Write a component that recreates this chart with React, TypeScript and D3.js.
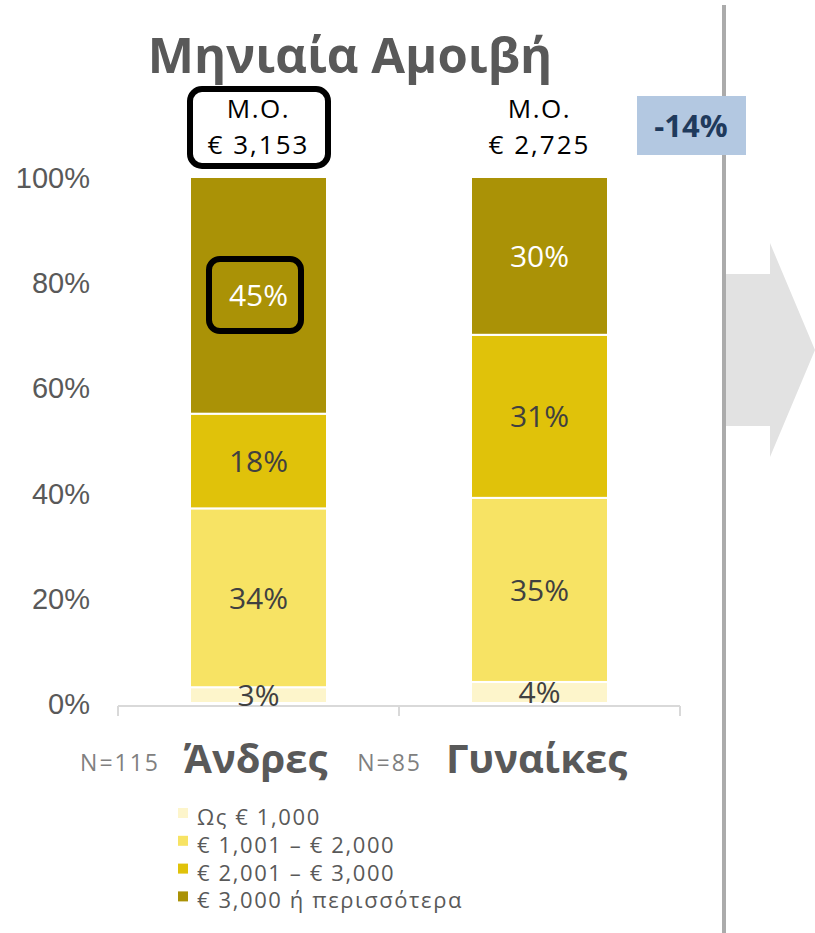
import React from "react";
import * as d3 from "d3";

const categories = ["Άνδρες", "Γυναίκες"];
const sampleSizes = ["N=115", "N=85"];
const averages = ["€ 3,153", "€ 2,725"];
const bands = ["Ως € 1,000", "€ 1,001 – € 2,000", "€ 2,001 – € 3,000", "€ 3,000 ή περισσότερα"];
const bandColors = ["#FDF5CB", "#F7E364", "#E0C20A", "#AA9206"];
const labelColors = ["#404040", "#404040", "#404040", "#ffffff"];
// share per band, bottom to top
const menValues = [3, 34, 18, 45];
const womenValues = [4, 35, 31, 30];
const yTicks = [0, 20, 40, 60, 80, 100];
const diffLabel = "-14%";

const W = 815;
const H = 933;

export default function App() {
  const series = [menValues, womenValues];
  const x = d3.scaleBand().domain(categories).range([118, 680]).paddingInner(0).paddingOuter(0);
  const y = d3.scaleLinear().domain([0, 100]).range([703, 177]);
  const barW = 137;
  const font = "'Open Sans', 'DejaVu Sans', sans-serif";

  const stacks = series.map((vals) => {
    let acc = 0;
    return vals.map((v, i) => {
      const s = { i, v, y0: acc, y1: acc + v };
      acc += v;
      return s;
    });
  });

  const arrow = d3.line()([
    [726, 274], [770, 274], [770, 243], [815, 350], [770, 457], [770, 426], [726, 426],
  ]);

  return (
    <svg width={W} height={H} style={{ position: "absolute", left: 0, top: 0 }}>
      <rect width={W} height={H} fill="#fff" />

      {/* divider + arrow */}
      <path d={arrow + "Z"} fill="#E2E2E2" />
      <line x1={724} x2={724} y1={5} y2={H} stroke="#ABABAB" strokeWidth={4} />
      <rect x={637} y={96} width={109} height={59} fill="#B3C8E1" />
      <text x={691} y={137} textAnchor="middle" fontFamily={font} fontWeight={700} fontSize={31} fill="#1F3A5C">
        {diffLabel}
      </text>

      {/* title */}
      <text x={350} y={73} textAnchor="middle" fontFamily={font} fontWeight={700} fontSize={49} fill="#595959">
        Μηνιαία Αμοιβή
      </text>

      {/* y axis labels */}
      {yTicks.map((t) => (
        <text key={t} x={90} y={y(t) + 11} textAnchor="end" fontFamily="'Liberation Sans', Arial, sans-serif" fontSize={29} fill="#595959">
          {t}%
        </text>
      ))}

      {/* x axis */}
      <line x1={118} x2={680} y1={706} y2={706} stroke="#D9D9D9" strokeWidth={2} />
      {[118, 399, 680].map((t) => (
        <line key={t} x1={t} x2={t} y1={706} y2={716} stroke="#D9D9D9" strokeWidth={2} />
      ))}

      {/* bars */}
      {stacks.map((st, ci) => {
        const cx = (x(categories[ci]) as number) + x.bandwidth() / 2;
        return (
          <g key={ci}>
            {st.map((s) => (
              <rect
                key={s.i}
                x={cx - barW / 2}
                y={y(s.y1)}
                width={barW}
                height={y(s.y0) - y(s.y1)}
                fill={bandColors[s.i]}
                stroke="#fff"
                strokeWidth={2}
              />
            ))}
            {st.map((s) => (
              <text
                key={"l" + s.i}
                x={cx}
                y={(y(s.y0) + y(s.y1)) / 2 + 11}
                textAnchor="middle"
                fontFamily={font}
                fontSize={30}
                fill={labelColors[s.i]}
              >
                {s.v}%
              </text>
            ))}
            <text x={cx} y={118} textAnchor="middle" fontFamily={font} fontSize={26} letterSpacing={1.5} fill="#000">
              Μ.Ο.
            </text>
            <text x={cx} y={154} textAnchor="middle" fontFamily={font} fontSize={26} letterSpacing={2} fill="#000">
              {averages[ci]}
            </text>
          </g>
        );
      })}

      {/* highlight boxes */}
      <rect x={190} y={89} width={138} height={77} rx={12} fill="none" stroke="#000" strokeWidth={6} />
      <rect x={209} y={259} width={92} height={72} rx={11} fill="none" stroke="#000" strokeWidth={6} />

      {/* category labels */}
      {categories.map((c, ci) => {
        const cx = (x(c) as number) + x.bandwidth() / 2;
        return (
          <text key={c} x={cx - 3} y={773} textAnchor="middle" fontFamily={font} fontWeight={700} fontSize={40} fill="#595959">
            {c}
          </text>
        );
      })}
      <text x={160} y={771} textAnchor="end" fontFamily={font} fontSize={23} letterSpacing={2} fill="#808080">{sampleSizes[0]}</text>
      <text x={422} y={771} textAnchor="end" fontFamily={font} fontSize={23} letterSpacing={2} fill="#808080">{sampleSizes[1]}</text>

      {/* legend */}
      {bands.map((b, i) => (
        <g key={b} transform={`translate(178, ${808 + i * 27.8})`}>
          <rect width={10} height={10} fill={bandColors[i]} />
          <text x={19} y={17} fontFamily={font} fontSize={22} letterSpacing={1.6} fill="#595959">{b}</text>
        </g>
      ))}
    </svg>
  );
}
